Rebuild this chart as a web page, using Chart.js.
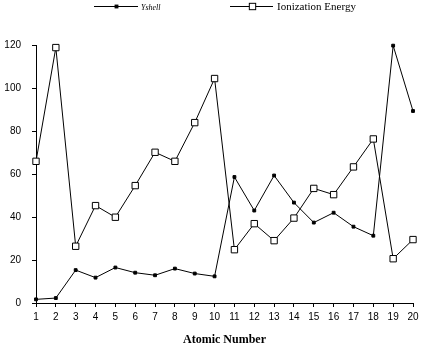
<!DOCTYPE html>
<html>
<head>
<meta charset="utf-8">
<script src="https://cdn.jsdelivr.net/npm/chart.js@4"></script>
<style>
  html, body { margin: 0; padding: 0; background: #fff; }
  #wrap { width: 429px; height: 347px; }
</style>
</head>
<body>
<div id="wrap"><canvas id="chart" width="429" height="347"></canvas></div>
<script>
var atomicNumbers = [1, 2, 3, 4, 5, 6, 7, 8, 9, 10, 11, 12, 13, 14, 15, 16, 17, 18, 19, 20];
var yshell = [1.7, 2.3, 15.3, 11.8, 16.5, 14.1, 12.9, 16.0, 13.7, 12.4,
              58.6, 43.0, 59.3, 46.7, 37.4, 42.0, 35.5, 31.3, 119.7, 89.3];
var ionization = [65.9, 118.8, 26.4, 45.3, 39.9, 54.6, 70.1, 65.9, 83.9, 104.4,
                  24.8, 36.9, 29.0, 39.5, 53.3, 50.4, 63.3, 76.3, 20.6, 29.5];
var yMin = 0, yMax = 120, yStep = 20;

// legend drawn by hand: line + marker + label, one font per item
var legendPlugin = {
  id: 'oldLegend',
  afterDraw: function (chart) {
    var c = chart.ctx;
    var items = [
      { x0: 94, x1: 138, tx: 141, font: 'italic 8px "Liberation Serif"', ds: 0 },
      { x0: 230, x1: 273, tx: 277, font: '11px "Liberation Serif"', ds: 1 }
    ];
    c.save();
    items.forEach(function (it) {
      var ds = chart.data.datasets[it.ds];
      var y = 6.5;
      var mx = Math.round((it.x0 + it.x1) / 2) + 0.5;
      c.strokeStyle = '#000';
      c.lineWidth = 1;
      c.beginPath();
      c.moveTo(it.x0, y);
      c.lineTo(it.x1, y);
      c.stroke();
      var s = Math.SQRT1_2 * ds.pointRadius;
      c.fillStyle = ds.pointBackgroundColor;
      c.fillRect(mx - s, y - s, 2 * s, 2 * s);
      c.strokeRect(mx - s, y - s, 2 * s, 2 * s);
      c.fillStyle = '#000';
      c.font = it.font;
      c.textBaseline = 'middle';
      c.textAlign = 'left';
      c.fillText(ds.label, it.tx, y + 1);
    });
    c.restore();
  }
};

new Chart(document.getElementById('chart'), {
  type: 'line',
  data: {
    labels: atomicNumbers,
    datasets: [{
      label: 'Yshell',
      data: yshell,
      borderColor: '#000',
      borderWidth: 1,
      pointStyle: 'rect',
      pointRadius: 2,
      pointBackgroundColor: '#000',
      pointBorderColor: '#000',
      pointBorderWidth: 1,
      tension: 0,
      clip: false
    }, {
      label: 'Ionization Energy',
      data: ionization,
      borderColor: '#000',
      borderWidth: 1,
      pointStyle: 'rect',
      pointRadius: 4.5,
      pointBackgroundColor: '#fff',
      pointBorderColor: '#000',
      pointBorderWidth: 1,
      tension: 0,
      clip: false
    }]
  },
  options: {
    responsive: false,
    animation: false,
    layout: { padding: { top: 45, right: 16, left: 0, bottom: 0 } },
    plugins: {
      legend: { display: false },
      tooltip: { enabled: false }
    },
    scales: {
      x: {
        type: 'category',
        offset: false,
        grid: { display: true, drawOnChartArea: false, drawTicks: true, tickLength: 4, color: '#000' },
        border: { color: '#000', width: 1 },
        ticks: {
          color: '#000', padding: 4, maxRotation: 0, autoSkip: false,
          font: { family: 'Liberation Sans', size: 10 }
        },
        title: {
          display: true, text: 'Atomic Number', color: '#000',
          font: { family: 'Liberation Serif', size: 12, weight: 'bold' },
          padding: { top: 6, bottom: 0 }
        },
        afterFit: function (s) { s.height = 44; }
      },
      y: {
        min: yMin, max: yMax,
        grid: { display: true, drawOnChartArea: false, drawTicks: true, tickLength: 4, color: '#000' },
        border: { color: '#000', width: 1 },
        ticks: {
          stepSize: yStep, color: '#000', padding: 11,
          font: { family: 'Liberation Sans', size: 10 }
        },
        afterFit: function (s) { s.width = 36; }
      }
    }
  },
  plugins: [legendPlugin]
});
</script>
</body>
</html>
